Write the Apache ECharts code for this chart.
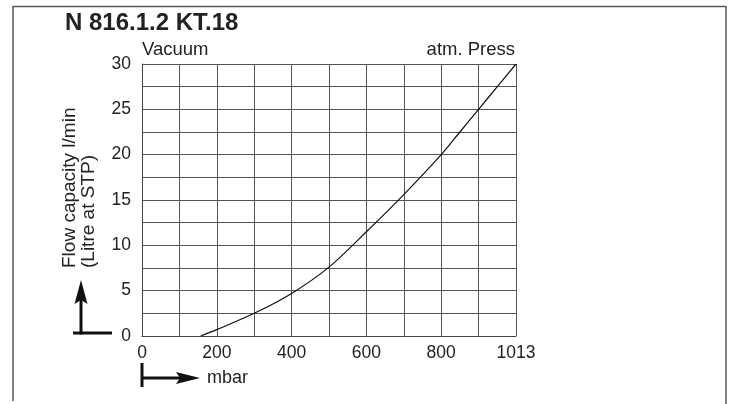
<!DOCTYPE html>
<html>
<head>
<meta charset="utf-8">
<script src="https://cdn.jsdelivr.net/npm/echarts@6/dist/echarts.min.js"></script>
<style>
html,body{margin:0;padding:0;background:#fff;}
#c{width:731px;height:404px;}
</style>
</head>
<body>
<div id="c"></div>
<script>
// Pressure position on the axis (mbar; right edge 1000 = 1013 mbar atm.)
var pressure = [157, 200, 300, 400, 500, 600, 700, 800, 850, 900, 950, 1000];
// Flow capacity l/min
var flow = [0, 0.7, 2.5, 4.7, 7.6, 11.5, 15.6, 20.0, 22.5, 25.0, 27.5, 30];
var xTickLabels = {0:'0', 200:'200', 400:'400', 600:'600', 800:'800', 1000:'1013'};
var yTickLabels = [0, 5, 10, 15, 20, 25, 30];

var FONT = 'Liberation Sans, Arial, Helvetica, sans-serif';
var TXT = '#222';
var chart = echarts.init(document.getElementById('c'), null, {renderer:'canvas'});
var data = pressure.map(function(p, i){ return [p, flow[i]]; });

chart.setOption({
  animation: false,
  backgroundColor: '#fff',
  grid: {left: 142, top: 64, width: 374, height: 272, containLabel: false},
  xAxis: {
    type: 'value', min: 0, max: 1000, interval: 100,
    axisLine: {show: true, lineStyle: {color: '#444', width: 1}},
    axisTick: {show: false},
    splitLine: {show: true, lineStyle: {color: '#555', width: 1}},
    axisLabel: {
      color: TXT, fontFamily: FONT, fontSize: 17.5, margin: 8,
      formatter: function(v){ return xTickLabels[v] !== undefined ? xTickLabels[v] : ''; }
    }
  },
  yAxis: {
    type: 'value', min: 0, max: 30, interval: 2.5,
    axisLine: {show: true, lineStyle: {color: '#444', width: 1}},
    axisTick: {show: false},
    splitLine: {show: true, lineStyle: {color: '#555', width: 1}},
    axisLabel: {
      color: TXT, fontFamily: FONT, fontSize: 17.5, margin: 11,
      formatter: function(v){ return yTickLabels.indexOf(v) >= 0 ? String(v) : ''; }
    }
  },
  series: [{
    type: 'line', data: data, smooth: 0.3, symbol: 'none',
    lineStyle: {color: '#111', width: 1.2}
  }],
  graphic: [
    // frame
    {type:'line', shape:{x1:13, y1:6.5, x2:726, y2:6.5}, style:{stroke:'#555', lineWidth:1.5}},
    {type:'line', shape:{x1:13, y1:6, x2:13, y2:401}, style:{stroke:'#555', lineWidth:1.5}},
    {type:'line', shape:{x1:726, y1:6, x2:726, y2:404}, style:{stroke:'#555', lineWidth:1.5}},
    // title
    {type:'text', left:65, top:11, style:{text:'N 816.1.2 KT.18', font:'bold 24px ' + FONT, fill:TXT}},
    {type:'text', x:142, y:50, style:{text:'Vacuum', font:'18.5px ' + FONT, fill:TXT, align:'left', verticalAlign:'middle'}},
    {type:'text', x:515, y:50, style:{text:'atm. Press', font:'18.5px ' + FONT, fill:TXT, align:'right', verticalAlign:'middle'}},
    // y axis name (rotated)
    {type:'text', x:70, y:268, rotation:Math.PI/2,
     style:{text:'Flow capacity l/min', font:'19px ' + FONT, fill:TXT, align:'left', verticalAlign:'middle'}},
    {type:'text', x:89, y:268, rotation:Math.PI/2,
     style:{text:'(Litre at STP)', font:'19px ' + FONT, fill:TXT, align:'left', verticalAlign:'middle'}},
    // vertical arrow
    {type:'line', shape:{x1:73, y1:333, x2:112, y2:333}, style:{stroke:'#111', lineWidth:3}},
    {type:'line', shape:{x1:81, y1:334.5, x2:81, y2:298}, style:{stroke:'#111', lineWidth:3}},
    {type:'polygon', shape:{points:[[81,280],[87.5,304],[81,300],[74.5,304]]}, style:{fill:'#111'}},
    // horizontal arrow
    {type:'line', shape:{x1:142, y1:363, x2:142, y2:387}, style:{stroke:'#111', lineWidth:3}},
    {type:'line', shape:{x1:142, y1:378, x2:182, y2:378}, style:{stroke:'#111', lineWidth:3}},
    {type:'polygon', shape:{points:[[200,378],[176,372],[180,378],[176,384]]}, style:{fill:'#111'}},
    {type:'text', x:207, y:378, style:{text:'mbar', font:'18px ' + FONT, fill:TXT, align:'left', verticalAlign:'middle'}}
  ]
});
</script>
</body>
</html>
